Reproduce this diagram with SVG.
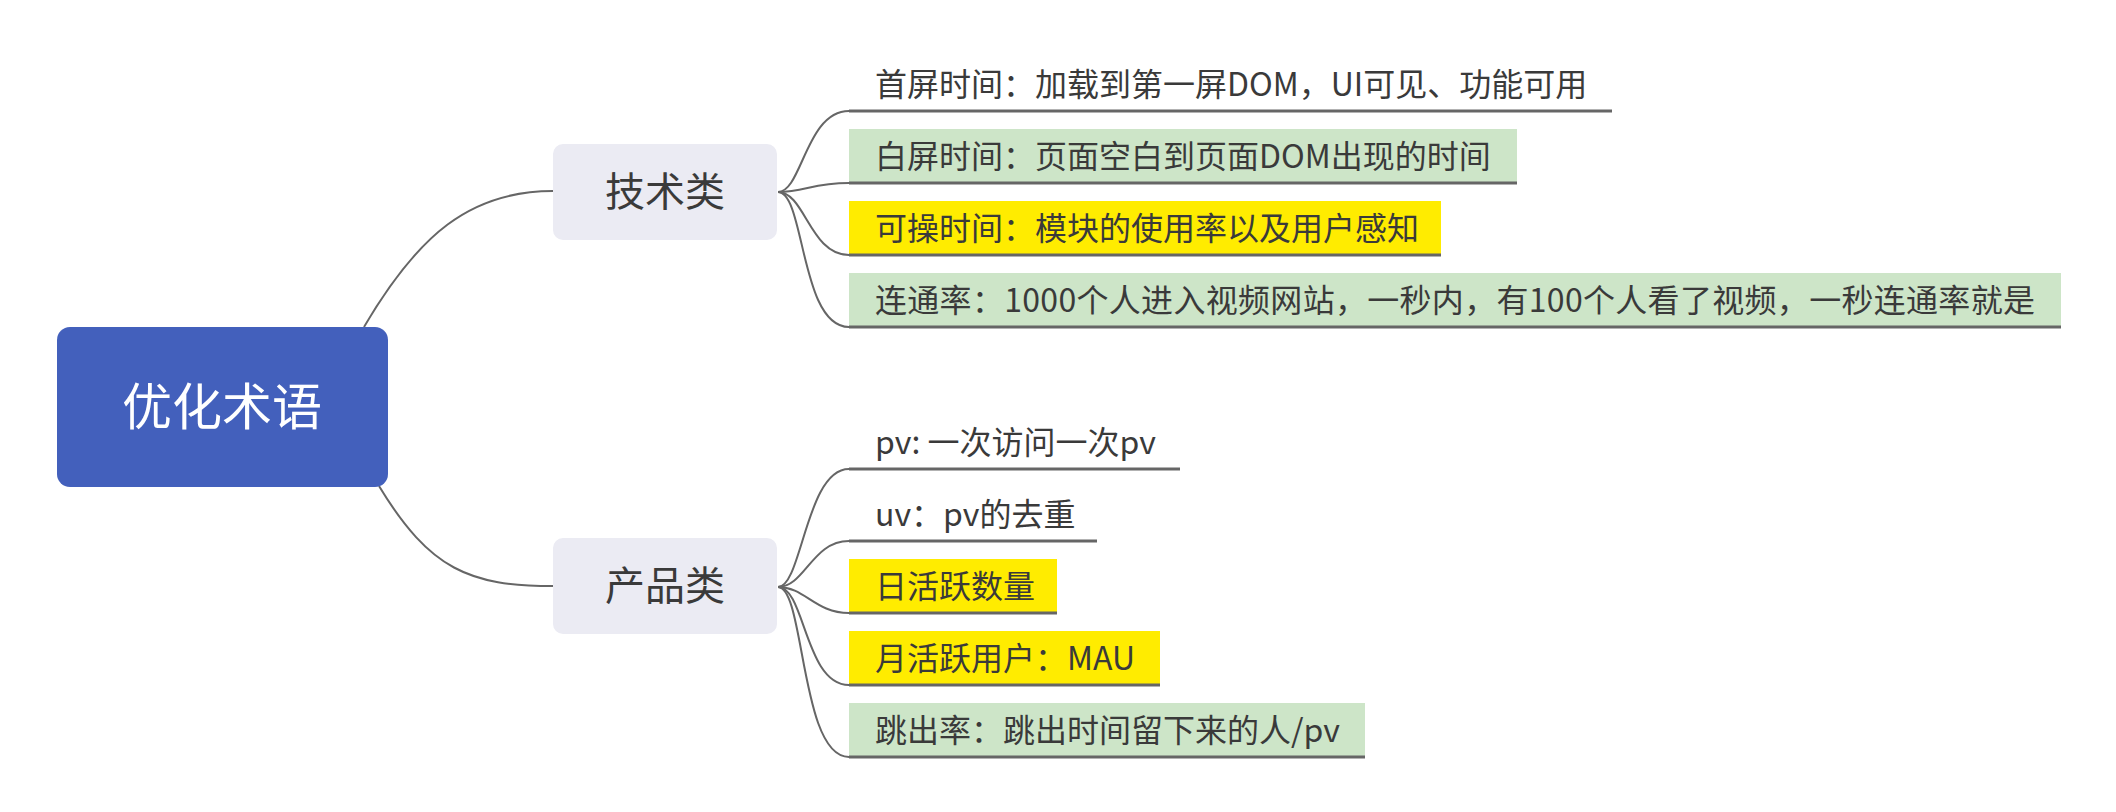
<svg xmlns="http://www.w3.org/2000/svg" width="2116" height="812" viewBox="0 0 2116 812">
  <style>
    .conn { fill: none; stroke: #666666; stroke-width: 2; }
    .uline { stroke: #666666; stroke-width: 3; }
    .t { font-family: "Noto Sans CJK SC", "Noto Sans", sans-serif; fill: #3a3a3a; }
    .item { font-size: 32px; }
    .topic { font-size: 40px; text-anchor: middle; }
    .root { font-size: 50px; fill: #ffffff; text-anchor: middle; }
    .green { fill: #cde5c8; }
    .yellow { fill: #ffec00; }
    .sub { fill: #ebebf3; }
  </style>

  <!-- connectors -->
  <g id="connectors">
    <path class="conn" d="M364,327 C418,235 470,191 553,191"/>
    <path class="conn" d="M379,486 C430,570 470,586 553,586"/>
    <!-- 技术类 branches -->
    <path class="conn" d="M778,192 C802,192 806,111 849,111"/>
    <path class="conn" d="M778,192 C805,192 812,183 849,183"/>
    <path class="conn" d="M778,192 C805,192 810,255 849,255"/>
    <path class="conn" d="M778,192 C805,192 800,327 849,327"/>
    <!-- 产品类 branches -->
    <path class="conn" d="M778,587 C802,587 806,469 849,469"/>
    <path class="conn" d="M778,587 C805,587 812,541 849,541"/>
    <path class="conn" d="M778,587 C805,587 815,613 849,613"/>
    <path class="conn" d="M778,587 C805,587 805,685 849,685"/>
    <path class="conn" d="M778,587 C805,587 800,757 849,757"/>
  </g>

  <!-- central topic -->
  <g id="root">
    <rect x="57" y="327" width="331" height="160" rx="13" fill="#4360bc"/>
    <text class="t root" x="222" y="425">优化术语</text>
  </g>

  <!-- main topics -->
  <g id="tech">
    <rect class="sub" x="553" y="144" width="224" height="96" rx="10"/>
    <text class="t topic" x="665" y="206">技术类</text>
  </g>
  <g id="product">
    <rect class="sub" x="553" y="538" width="224" height="96" rx="10"/>
    <text class="t topic" x="665" y="600">产品类</text>
  </g>

  <!-- 技术类 items -->
  <g id="tech-1">
    <line class="uline" x1="849" y1="111" x2="1612" y2="111"/>
    <text class="t item" x="875" y="96">首屏时间：加载到第一屏DOM，UI可见、功能可用</text>
  </g>
  <g id="tech-2">
    <rect class="green" x="849" y="129" width="668" height="54"/>
    <line class="uline" x1="849" y1="183" x2="1517" y2="183"/>
    <text class="t item" x="875" y="168">白屏时间：页面空白到页面DOM出现的时间</text>
  </g>
  <g id="tech-3">
    <rect class="yellow" x="849" y="201" width="592" height="54"/>
    <line class="uline" x1="849" y1="255" x2="1441" y2="255"/>
    <text class="t item" x="875" y="240">可操时间：模块的使用率以及用户感知</text>
  </g>
  <g id="tech-4">
    <rect class="green" x="849" y="273" width="1212" height="54"/>
    <line class="uline" x1="849" y1="327" x2="2061" y2="327"/>
    <text class="t item" x="875" y="312" textLength="1160" lengthAdjust="spacing">连通率：1000个人进入视频网站，一秒内，有100个人看了视频，一秒连通率就是</text>
  </g>

  <!-- 产品类 items -->
  <g id="prod-1">
    <line class="uline" x1="849" y1="469" x2="1180" y2="469"/>
    <text class="t item" x="875" y="454">pv: 一次访问一次pv</text>
  </g>
  <g id="prod-2">
    <line class="uline" x1="849" y1="541" x2="1097" y2="541"/>
    <text class="t item" x="875" y="526">uv：pv的去重</text>
  </g>
  <g id="prod-3">
    <rect class="yellow" x="849" y="559" width="208" height="54"/>
    <line class="uline" x1="849" y1="613" x2="1057" y2="613"/>
    <text class="t item" x="875" y="598">日活跃数量</text>
  </g>
  <g id="prod-4">
    <rect class="yellow" x="849" y="631" width="311" height="54"/>
    <line class="uline" x1="849" y1="685" x2="1160" y2="685"/>
    <text class="t item" x="875" y="670">月活跃用户：MAU</text>
  </g>
  <g id="prod-5">
    <rect class="green" x="849" y="703" width="516" height="54"/>
    <line class="uline" x1="849" y1="757" x2="1365" y2="757"/>
    <text class="t item" x="875" y="742">跳出率：跳出时间留下来的人/pv</text>
  </g>
</svg>
